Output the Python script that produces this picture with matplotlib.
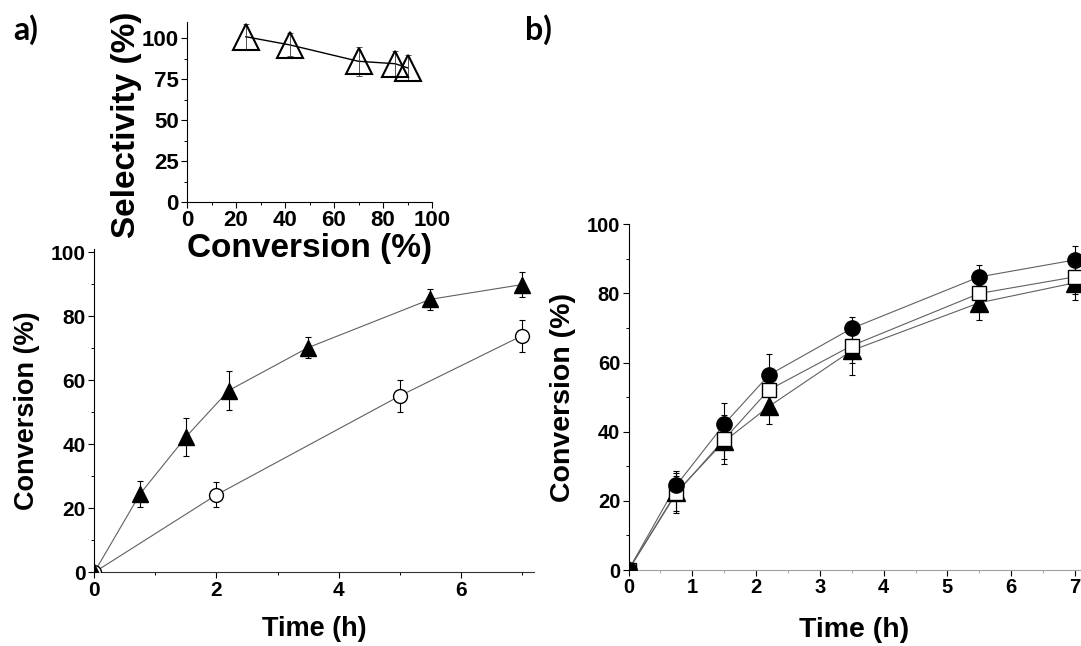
import matplotlib
matplotlib.use("Agg")
import matplotlib.pyplot as plt
from matplotlib.ticker import MultipleLocator

# panel a, main plot
t_tri_a = [0, 0.75, 1.5, 2.2, 3.5, 5.5, 7]
conv_tri_a = [0, 24.5, 42.3, 56.8, 70.2, 85.3, 89.9]
err_tri_a = [0, 4, 6, 6, 3.3, 3.3, 4]

t_circ_a = [0, 2, 5, 7]
conv_circ_a = [0, 24.2, 55.1, 73.9]
err_circ_a = [0, 3.9, 4.9, 4.9]

# panel a, inset
sel_conv = [24, 42, 70, 85, 90]
sel_val = [101, 96, 86, 84.5, 82]
sel_err = [8, 7, 9, 8, 8]

# panel b
t_b = [0, 0.75, 1.5, 2.2, 3.5, 5.5, 7]
conv_circ_b = [0, 24.5, 42.2, 56.4, 69.9, 84.8, 89.7]
err_circ_b = [0, 3.7, 6, 6, 3.4, 3.4, 4]
conv_sq_b = [0, 22.2, 37.8, 52.1, 64.9, 80.0, 84.8]
err_sq_b = [0, 5, 7, 4, 5, 3, 5]
conv_tri_b = [0, 22.5, 37.2, 47.3, 63.5, 77.3, 83.1]
err_tri_b = [0, 6, 5, 5, 7, 5, 5]

W, H = 1081, 646
fig = plt.figure(figsize=(W / 100, H / 100), dpi=100)

line_c = "#606060"
lab_font = dict(fontfamily="Liberation Sans", fontweight="bold")


def style_axes(ax, tsize):
    ax.spines["top"].set_visible(False)
    ax.spines["right"].set_visible(False)
    ax.tick_params(which="major", direction="out", length=4, width=0.8, pad=2,
                   labelsize=tsize)
    ax.tick_params(which="minor", direction="out", length=2.5, width=0.7)
    for lab in ax.get_xticklabels() + ax.get_yticklabels():
        lab.set_fontfamily("Liberation Sans")
        lab.set_fontweight("heavy")


def series(ax, x, y, e, marker, ms, face):
    ax.plot(x, y, color=line_c, lw=0.8, zorder=2)
    ax.errorbar(x, y, yerr=e, fmt="none", ecolor="black", elinewidth=0.8,
                capsize=2.5, capthick=0.8, zorder=3)
    ax.plot(x, y, linestyle="none", marker=marker, ms=ms, mfc=face,
            mec="black", mew=1.0, zorder=4)


# --- panel a main
ax_a = fig.add_axes([94.3 / W, (H - 572.3) / H, 439.7 / W, 323.2 / H])
series(ax_a, t_circ_a, conv_circ_a, err_circ_a, "o", 10, "white")
series(ax_a, t_tri_a, conv_tri_a, err_tri_a, "^", 11.5, "black")
ax_a.set_xlim(0, 7.2)
ax_a.set_ylim(0, 101)
ax_a.xaxis.set_major_locator(MultipleLocator(2))
ax_a.xaxis.set_minor_locator(MultipleLocator(1))
ax_a.yaxis.set_major_locator(MultipleLocator(20))
ax_a.yaxis.set_minor_locator(MultipleLocator(10))
style_axes(ax_a, 15)
ax_a.spines["bottom"].set_color("#333333")
ax_a.set_xlabel("Time (h)", fontsize=19.5, labelpad=12, **lab_font)
ax_a.set_ylabel("Conversion (%)", fontsize=19.5, labelpad=8, **lab_font)

# --- inset
ax_i = fig.add_axes([187 / W, (H - 202) / H, 245 / W, 180 / H])
ax_i.plot(sel_conv, sel_val, color="black", lw=1.0, zorder=2)
ax_i.errorbar(sel_conv, sel_val, yerr=sel_err, fmt="none", ecolor="#333333",
              elinewidth=0.6, capsize=2, capthick=0.6, zorder=3)
ax_i.plot(sel_conv, sel_val, linestyle="none", marker="^", ms=19, mfc="none",
          mec="black", mew=1.5, zorder=4)
ax_i.set_xlim(0, 100)
ax_i.set_ylim(0, 110)
ax_i.set_yticks([0, 25, 50, 75, 100])
ax_i.xaxis.set_major_locator(MultipleLocator(20))
ax_i.xaxis.set_minor_locator(MultipleLocator(10))
ax_i.yaxis.set_minor_locator(MultipleLocator(12.5))
style_axes(ax_i, 16)
ax_i.set_xlabel("Conversion (%)", fontsize=24, labelpad=1, **lab_font)
ax_i.set_ylabel("Selectivity (%)", fontsize=24, **lab_font)
ax_i.yaxis.set_label_coords(-0.185, 0.43)

# --- panel b
ax_b = fig.add_axes([628.5 / W, (H - 570) / H, 451.7 / W, 345.7 / H])
series(ax_b, t_b, conv_tri_b, err_tri_b, "^", 12.5, "black")
series(ax_b, t_b, conv_sq_b, err_sq_b, "s", 10, "white")
series(ax_b, t_b, conv_circ_b, err_circ_b, "o", 11, "black")
ax_b.set_xlim(0, 7.08)
ax_b.set_ylim(0, 100)
ax_b.xaxis.set_major_locator(MultipleLocator(1))
ax_b.xaxis.set_minor_locator(MultipleLocator(0.5))
ax_b.yaxis.set_major_locator(MultipleLocator(20))
ax_b.yaxis.set_minor_locator(MultipleLocator(10))
style_axes(ax_b, 14.5)
ax_b.spines["bottom"].set_color("#a0a0a0")
ax_b.tick_params(axis="x", which="minor", color="#a0a0a0")
ax_b.set_xlabel("Time (h)", fontsize=20.5, labelpad=14, **lab_font)
ax_b.set_ylabel("Conversion (%)", fontsize=20.5, labelpad=8, **lab_font)

# panel letters
fig.text(13 / W, 1 - 30 / H, "a)", fontfamily="Lato", fontweight="bold",
         fontsize=23, va="center", ha="left")
fig.text(525 / W, 1 - 30 / H, "b)", fontfamily="Lato", fontweight="bold",
         fontsize=23, va="center", ha="left")

fig.savefig("out.png", dpi=100)
